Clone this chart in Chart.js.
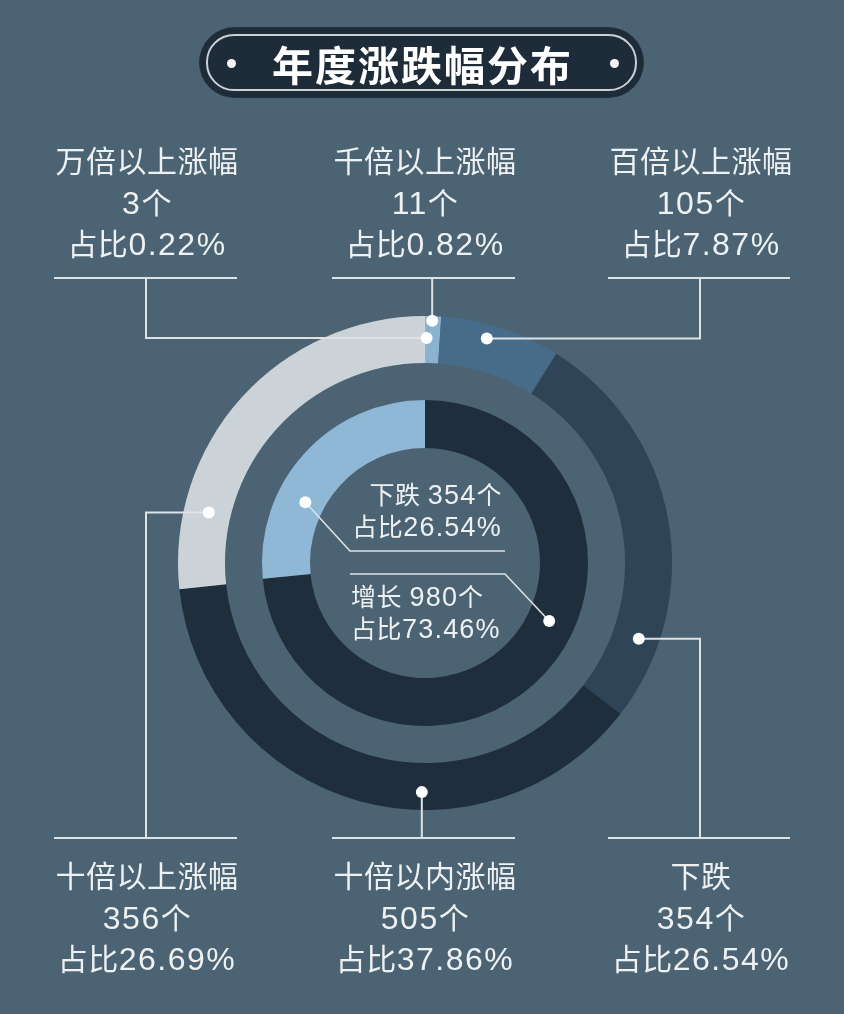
<!DOCTYPE html>
<html>
<head>
<meta charset="utf-8">
<script src="https://cdn.jsdelivr.net/npm/chart.js@4.4.1/dist/chart.umd.min.js"></script>
<style>
  html, body { margin: 0; padding: 0; background: #4b6372; }
  #wrap { position: relative; width: 844px; height: 1014px; overflow: hidden; background: #4b6372;
          font-family: "Liberation Sans", "Noto Sans CJK SC", sans-serif; color: #eef1f3; }
  #c { position: absolute; left: 0; top: 0; }
  .pill { position: absolute; left: 200px; top: 28px; width: 443px; height: 69px; border-radius: 35px;
          background: #1e2c3a; box-shadow: 0 0 0 1px #22313f; }
  .pill-in { position: absolute; left: 206px; top: 34px; width: 427px; height: 53px; border-radius: 28px;
             border: 2px solid #c9d1d6; }
  .pdot { position: absolute; width: 9px; height: 9px; border-radius: 50%; background: #f2f4f5; top: 59px; }
  .title { position: absolute; left: 200px; width: 443px; top: 37px; height: 52px; line-height: 52px; text-align: center;
           font-family: "Noto Sans CJK SC", sans-serif; font-weight: 700; font-size: 41px; color: #fff; letter-spacing: 2px; text-indent: 2px; }
  .lab { position: absolute; width: 260px; text-align: center; font-size: 30px; line-height: 41.5px; white-space: nowrap; letter-spacing: 0.5px; }
  .lab .n { font-size: 32px; letter-spacing: 1.5px; }
  .ctr { position: absolute; font-size: 25px; line-height: 32px; white-space: nowrap; letter-spacing: 0.5px; }
  .ctr .n { font-size: 27px; letter-spacing: 1.2px; }
</style>
</head>
<body>
<div id="wrap">
  <canvas id="c" width="844" height="1014"></canvas>
  <div class="pill"></div>
  <div class="pill-in"></div>
  <div class="pdot" style="left:227px"></div>
  <div class="pdot" style="left:610px"></div>
  <div class="title">年度涨跌幅分布</div>
  <div id="labels"></div>
</div>
<script>
// ---- data ----
const outerNames = ['万倍以上涨幅', '千倍以上涨幅', '百倍以上涨幅', '下跌', '十倍以内涨幅', '十倍以上涨幅'];
const outerCounts = [3, 11, 105, 354, 505, 356];
const outerPct = ['0.22%', '0.82%', '7.87%', '26.54%', '37.86%', '26.69%'];
const innerNames = ['增长', '下跌'];
const innerCounts = [980, 354];
const innerPct = ['73.46%', '26.54%'];

const outerColors = ['#8cb4d3', '#8ab2d1', '#476c89', '#2f4557', '#1f2e3d', '#cbd3d8'];
const innerColors = ['#1f2e3d', '#8fb7d6'];

// label layout (top row / bottom row)
const outerLabelPos = [
  {cx: 146, top: 141, lineY: 278, x1: 54, x2: 237},
  {cx: 424, top: 141, lineY: 278, x1: 332, x2: 515},
  {cx: 700, top: 141, lineY: 278, x1: 608, x2: 790},
  {cx: 700, top: 856, lineY: 838, x1: 608, x2: 790},
  {cx: 424, top: 856, lineY: 838, x1: 332, x2: 515},
  {cx: 146, top: 856, lineY: 838, x1: 54, x2: 237}
];
// leader anchor within arc: a = fraction along angle, r = fraction across ring, mode
const outerAnchors = [
  {a: 0.5, r: 0.53, mode: 'hv'},
  {a: 0.3, r: 0.9, mode: 'v'},
  {a: 0.41, r: 0.7, mode: 'hv'},
  {a: 0.81, r: 0.57, mode: 'hv'},
  {a: 0.39, r: 0.62, mode: 'v'},
  {a: 0.2, r: 0.47, mode: 'hv'}
];
const innerAnchors = [
  {a: 0.435, r: 0.46, ex: 505, ey: 574, hx: 350},
  {a: 0.34, r: 0.40, ex: 350, ey: 551, hx: 505}
];

// ---- labels (HTML text) ----
function num(s) { return String(s).replace(/[0-9.%]+/g, m => '<span class="n">' + m + '</span>'); }
const labelsDiv = document.getElementById('labels');
outerNames.forEach((n, i) => {
  const p = outerLabelPos[i];
  const d = document.createElement('div');
  d.className = 'lab';
  d.style.left = (p.cx - 130 + 1) + 'px';
  d.style.top = p.top + 'px';
  d.innerHTML = n + '<br>' + num(outerCounts[i]) + '个<br>占比' + num(outerPct[i]);
  labelsDiv.appendChild(d);
});
const c1 = document.createElement('div');
c1.className = 'ctr';
c1.style.right = (844 - 502) + 'px'; c1.style.top = '479px'; c1.style.textAlign = 'right';
c1.innerHTML = innerNames[1] + ' ' + num(innerCounts[1]) + '个<br>占比' + num(innerPct[1]);
labelsDiv.appendChild(c1);
const c2 = document.createElement('div');
c2.className = 'ctr';
c2.style.left = '351px'; c2.style.top = '581px';
c2.innerHTML = innerNames[0] + ' ' + num(innerCounts[0]) + '个<br>占比' + num(innerPct[0]);
labelsDiv.appendChild(c2);

// ---- leader plugin ----
function anchorPoint(arc, a, r) {
  const p = arc.getProps(['x', 'y', 'startAngle', 'endAngle', 'innerRadius', 'outerRadius'], true);
  const th = p.startAngle + a * (p.endAngle - p.startAngle);
  const rr = p.innerRadius + r * (p.outerRadius - p.innerRadius);
  return {x: p.x + rr * Math.cos(th), y: p.y + rr * Math.sin(th)};
}
const leaders = {
  id: 'leaders',
  afterDatasetsDraw(chart) {
    const ctx = chart.ctx;
    ctx.save();
    ctx.strokeStyle = '#dde2e5';
    ctx.lineWidth = 2;
    ctx.fillStyle = '#ffffff';
    const outerMeta = chart.getDatasetMeta(0);
    const innerMeta = chart.getDatasetMeta(2);
    const dots = [];
    outerMeta.data.forEach((arc, i) => {
      const an = outerAnchors[i], lp = outerLabelPos[i];
      const pt = anchorPoint(arc, an.a, an.r);
      ctx.beginPath();
      ctx.moveTo(lp.x1, lp.lineY); ctx.lineTo(lp.x2, lp.lineY);
      if (an.mode === 'hv') {
        ctx.moveTo(pt.x, pt.y); ctx.lineTo(lp.cx, pt.y); ctx.lineTo(lp.cx, lp.lineY);
      } else {
        ctx.moveTo(pt.x, pt.y); ctx.lineTo(pt.x, lp.lineY);
      }
      ctx.stroke();
      dots.push(pt);
    });
    ctx.lineWidth = 1.6;
    innerMeta.data.forEach((arc, i) => {
      const an = innerAnchors[i];
      const pt = anchorPoint(arc, an.a, an.r);
      ctx.beginPath();
      ctx.moveTo(pt.x, pt.y); ctx.lineTo(an.ex, an.ey); ctx.lineTo(an.hx, an.ey);
      ctx.stroke();
      dots.push(pt);
    });
    dots.forEach(pt => {
      ctx.beginPath(); ctx.arc(pt.x, pt.y, 6, 0, Math.PI * 2); ctx.fill();
    });
    ctx.restore();
  }
};

new Chart(document.getElementById('c'), {
  type: 'doughnut',
  data: {
    labels: outerNames,
    datasets: [
      {data: outerCounts, backgroundColor: outerColors, borderWidth: 0, weight: 47},
      {data: [1], backgroundColor: ['rgba(0,0,0,0)'], borderWidth: 0, weight: 37, hoverBackgroundColor: ['rgba(0,0,0,0)']},
      {data: innerCounts, backgroundColor: innerColors, borderWidth: 0, weight: 48}
    ]
  },
  options: {
    responsive: false,
    animation: false,
    cutout: '46.56%',
    layout: {padding: {left: 178, right: 172, top: 316, bottom: 204}},
    plugins: {legend: {display: false}, tooltip: {enabled: false}},
    events: []
  },
  plugins: [leaders]
});
</script>
</body>
</html>
